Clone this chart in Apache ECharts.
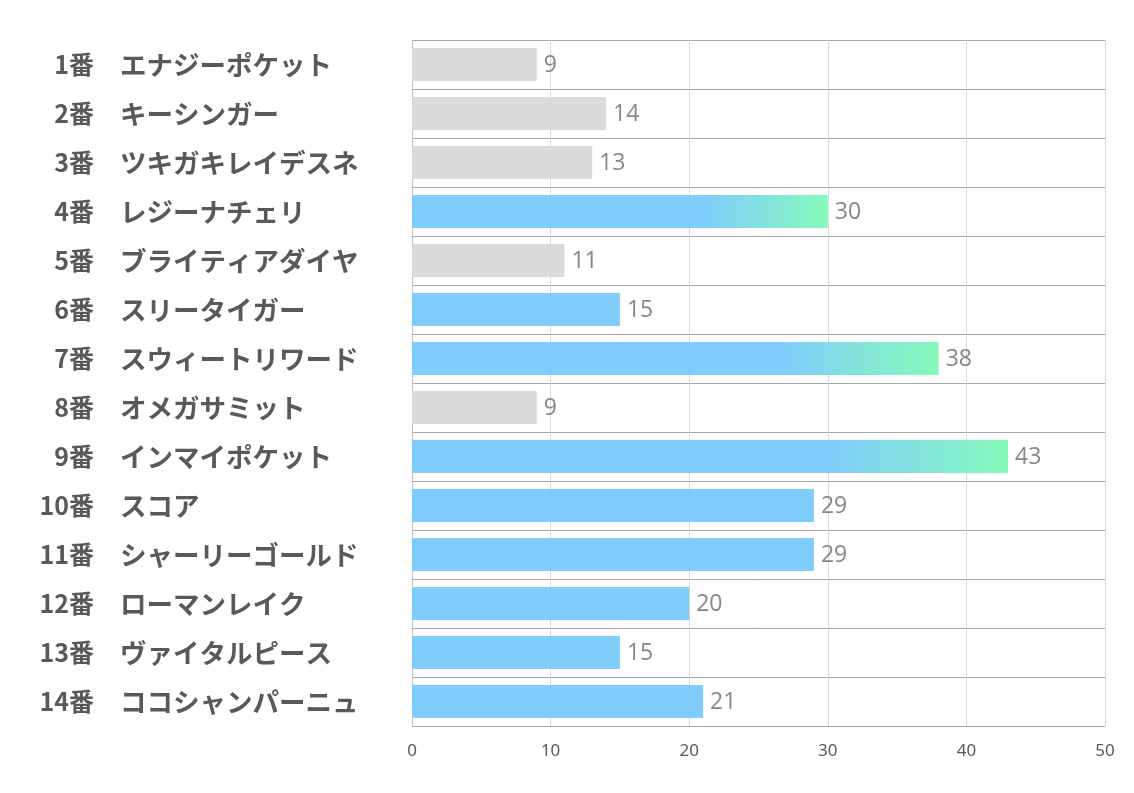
<!DOCTYPE html>
<html>
<head>
<meta charset="utf-8">
<script src="https://cdn.jsdelivr.net/npm/echarts@6/dist/echarts.min.js"></script>
<style>
html, body { margin: 0; padding: 0; background: #fff; }
#main { width: 1134px; height: 793px; }
</style>
</head>
<body>
<div id="main"></div>
<script>
// 馬番と馬名
const numbers = ['1番', '2番', '3番', '4番', '5番', '6番', '7番', '8番', '9番', '10番', '11番', '12番', '13番', '14番'];
const names = ['エナジーポケット', 'キーシンガー', 'ツキガキレイデスネ', 'レジーナチェリ', 'ブライティアダイヤ', 'スリータイガー',
    'スウィートリワード', 'オメガサミット', 'インマイポケット', 'スコア', 'シャーリーゴールド', 'ローマンレイク', 'ヴァイタルピース', 'ココシャンパーニュ'];
const values = [9, 14, 13, 30, 11, 15, 38, 9, 43, 29, 29, 20, 15, 21];
// グレー表示の馬
const grayNumbers = ['1番', '2番', '3番', '5番', '8番'];
const xTicks = [0, 50, 10];

const blue = '#79cafd';
const green = '#7ff9b6';
const labelFont = '"Noto Sans CJK JP", sans-serif';

let seriesData = values.map((v, i) => {
    let color = blue;
    if (grayNumbers.indexOf(numbers[i]) >= 0) {
        color = '#d9d9d9';
    } else if (v >= 30) {
        color = new echarts.graphic.LinearGradient(0, 0, 1, 0, [
            { offset: 0, color: blue },
            { offset: 0.7, color: blue },
            { offset: 1, color: green }
        ]);
    }
    return { value: v, itemStyle: { color: color } };
});

let chart = echarts.init(document.getElementById('main'));
chart.setOption({
    animation: false,
    grid: {
        left: 412,
        right: 29,
        top: 40,
        bottom: 67
    },
    xAxis: {
        type: 'value',
        min: xTicks[0],
        max: xTicks[1],
        interval: xTicks[2],
        axisLine: { show: false },
        axisTick: { show: false },
        splitLine: { lineStyle: { color: '#d9d9d9', width: 1 } },
        axisLabel: {
            color: '#595959',
            fontSize: 17,
            margin: 17,
            fontFamily: '"Liberation Sans Narrow", "Noto Sans", sans-serif'
        }
    },
    yAxis: [
        {
            // 馬番（右揃え）
            type: 'category',
            inverse: true,
            data: numbers,
            axisLine: { show: true, lineStyle: { color: '#bfbfbf' } },
            axisTick: { show: false },
            splitLine: { show: true, lineStyle: { color: '#a6a6a6', width: 1 } },
            axisLabel: {
                align: 'right',
                margin: 318,
                fontSize: 25,
                fontWeight: 'bold',
                color: '#595959',
                fontFamily: labelFont
            }
        },
        {
            // 馬名（左揃え）
            type: 'category',
            position: 'left',
            inverse: true,
            data: names,
            axisLine: { show: false },
            axisTick: { show: false },
            splitLine: { show: false },
            axisLabel: {
                align: 'left',
                margin: 292,
                fontSize: 26.5,
                fontWeight: 'bold',
                color: '#595959',
                fontFamily: labelFont
            }
        }
    ],
    series: [
        {
            type: 'bar',
            yAxisIndex: 0,
            data: seriesData,
            barCategoryGap: '33%',
            itemStyle: { opacity: 0.95 },
            label: {
                show: true,
                position: 'right',
                distance: 7,
                offset: [0, 1],
                color: '#7f7f7f',
                fontSize: 23,
                fontFamily: '"Open Sans", "Noto Sans", sans-serif'
            }
        }
    ]
});
</script>
</body>
</html>
